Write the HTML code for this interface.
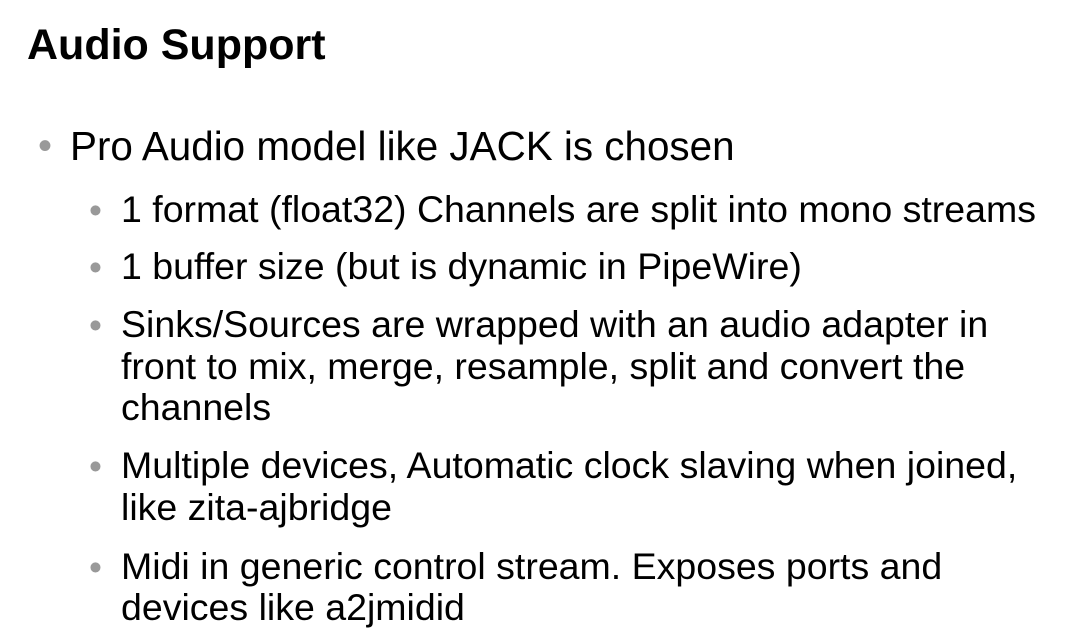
<!DOCTYPE html>
<html><head><meta charset="utf-8"><style>
html,body{margin:0;padding:0;width:1080px;height:640px;background:#fff;overflow:hidden}
div{position:absolute;line-height:1;white-space:nowrap;font-family:"Liberation Sans",sans-serif;color:#000}
.t{font-weight:bold;font-size:43px;left:27px;top:24px}
.l1{font-size:40.4px;left:70px}
.l2{font-size:37.5px;left:121px}
.b1{font-size:40px;left:38px;color:#999}
.b2{font-size:37px;left:89px;color:#999}
</style></head><body>
<div class="t">Audio Support</div>
<div class="b1" style="top:126px">•</div>
<div class="l1" style="top:126px">Pro Audio model like JACK is chosen</div>
<div class="b2" style="top:192px">•</div>
<div class="l2" style="top:191px">1 format (float32) Channels are split into mono streams</div>
<div class="b2" style="top:249px">•</div>
<div class="l2" style="top:248px">1 buffer size (but is dynamic in PipeWire)</div>
<div class="b2" style="top:307px">•</div>
<div class="l2" style="top:306px">Sinks/Sources are wrapped with an audio adapter in</div>
<div class="l2" style="top:348px">front to mix, merge, resample, split and convert the</div>
<div class="l2" style="top:389px">channels</div>
<div class="b2" style="top:448px">•</div>
<div class="l2" style="top:447px">Multiple devices, Automatic clock slaving when joined,</div>
<div class="l2" style="top:489px">like zita-ajbridge</div>
<div class="b2" style="top:549px">•</div>
<div class="l2" style="top:548px">Midi in generic control stream. Exposes ports and</div>
<div class="l2" style="top:589px">devices like a2jmidid</div>
</body></html>
